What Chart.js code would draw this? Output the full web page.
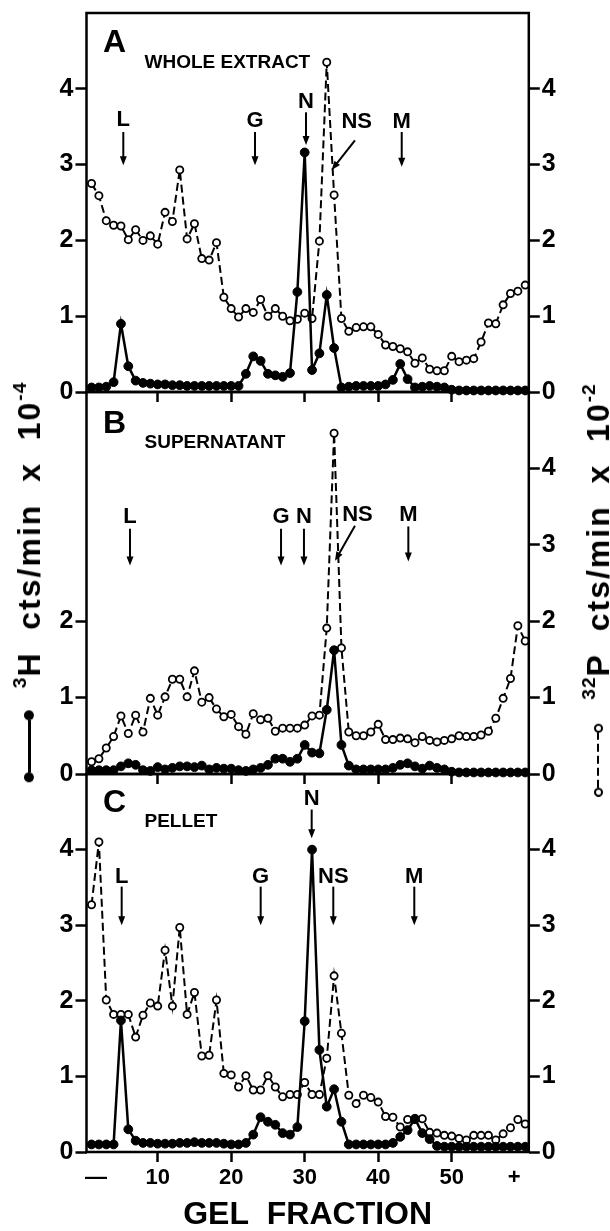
<!DOCTYPE html>
<html>
<head>
<meta charset="utf-8">
<script src="https://cdn.jsdelivr.net/npm/chart.js@4.4.0/dist/chart.umd.min.js"></script>
<style>
  body { margin: 0; background: #fff; }
  #page { position: relative; width: 610px; height: 1231px; overflow: hidden; background: #fff; }
  canvas { position: absolute; left: 0; }
  .ytitle {
    position: absolute; transform-origin: 0 0; transform: rotate(-90deg) translate(-50%, -50%);
    display: flex; align-items: center; white-space: nowrap; color: #000;
    font-family: "Liberation Sans", Arial, sans-serif; font-weight: bold; font-size: 32px;
    line-height: 1; letter-spacing: 2px;
  }
  .ytitle sup { font-size: 0.6em; line-height: 0; vertical-align: 0.75em; letter-spacing: 1px; }
  .sym { display: flex; align-items: center; }
  .dot { width: 10px; height: 10px; border-radius: 50%; background: #000; }
  .bar { width: 52px; height: 3px; background: #000; }
  .odot { width: 5px; height: 5px; border-radius: 50%; border: 2.5px solid #000; background: #fff; }
  .dbar { width: 55px; height: 2.5px; background: repeating-linear-gradient(90deg, #000 0 8px, transparent 8px 12px); }
</style>
</head>
<body>
<div id="page">
  <canvas id="chartA" width="610" height="406" style="top:0px"></canvas>
  <canvas id="chartB" width="610" height="410" style="top:378px"></canvas>
  <canvas id="chartC" width="610" height="471" style="top:760px"></canvas>

  <div class="ytitle" style="left:29px; top:582px">
    <span class="sym" style="margin-right:22px"><i class="dot"></i><i class="bar"></i><i class="dot"></i></span>
    <span><sup>3</sup>H&nbsp; cts/min&nbsp; x&nbsp; 10<sup>-4</sup></span>
  </div>
  <div class="ytitle" style="left:598px; top:590px">
    <span class="sym" style="margin-right:24px"><i class="odot"></i><i class="dbar"></i><i class="odot"></i></span>
    <span><sup>32</sup>P&nbsp; cts/min&nbsp; x&nbsp; 10<sup>-2</sup></span>
  </div>
</div>

<script>
// gel fractions (x)
const fractions = [1,2,3,4,5,6,7,8,9,10,11,12,13,14,15,16,17,18,19,20,
  21,22,23,24,25,26,27,28,29,30,31,32,33,34,35,36,37,38,39,40,
  41,42,43,44,45,46,47,48,49,50,51,52,53,54,55,56,57,58,59,60];

// A: whole extract
const h3A = [0.06,0.06,0.07,0.13,0.90,0.34,0.15,0.12,0.11,0.10,0.10,0.09,0.09,0.08,0.08,0.08,0.08,0.08,0.08,0.08,
  0.08,0.24,0.47,0.41,0.24,0.22,0.20,0.25,1.32,3.16,0.29,0.51,1.28,0.58,0.06,0.07,0.08,0.08,0.08,0.08,
  0.10,0.16,0.37,0.17,0.06,0.07,0.08,0.07,0.06,0.03,0.02,0.02,0.02,0.02,0.02,0.02,0.02,0.02,0.02,0.02];
const p32A = [2.75,2.59,2.26,2.20,2.19,2.01,2.14,2.00,2.06,1.95,2.37,2.25,2.93,2.02,2.22,1.76,1.74,1.97,1.25,1.10,
  0.99,1.10,1.05,1.22,1.00,1.10,1.00,0.94,0.96,1.04,0.97,1.99,4.35,2.60,0.97,0.80,0.85,0.86,0.86,0.76,
  0.62,0.60,0.57,0.53,0.38,0.45,0.30,0.28,0.28,0.47,0.40,0.42,0.44,0.66,0.91,0.90,1.15,1.30,1.33,1.41];

// B: supernatant
const h3B = [0.05,0.05,0.05,0.05,0.10,0.14,0.12,0.05,0.04,0.09,0.06,0.08,0.10,0.10,0.09,0.11,0.06,0.08,0.07,0.07,
  0.05,0.04,0.06,0.08,0.12,0.20,0.20,0.16,0.20,0.38,0.28,0.27,0.84,1.62,0.38,0.11,0.06,0.06,0.06,0.06,
  0.06,0.08,0.12,0.14,0.10,0.07,0.11,0.08,0.06,0.03,0.02,0.02,0.02,0.02,0.02,0.02,0.02,0.02,0.02,0.02];
const p32B = [0.16,0.20,0.34,0.49,0.76,0.53,0.77,0.55,0.99,0.77,1.01,1.24,1.24,1.01,1.35,0.94,1.00,0.85,0.75,0.78,
  0.62,0.52,0.79,0.71,0.73,0.56,0.60,0.60,0.60,0.64,0.76,0.77,1.91,4.46,1.65,0.55,0.50,0.50,0.55,0.65,
  0.45,0.45,0.47,0.46,0.41,0.49,0.44,0.42,0.44,0.46,0.50,0.49,0.49,0.51,0.56,0.73,0.99,1.25,1.94,1.74];

// C: pellet
const h3C = [0.10,0.10,0.10,0.10,1.74,0.30,0.15,0.12,0.12,0.11,0.11,0.11,0.12,0.12,0.13,0.12,0.12,0.12,0.11,0.10,
  0.10,0.12,0.23,0.46,0.40,0.36,0.25,0.23,0.33,1.73,4.00,1.35,0.60,0.83,0.40,0.10,0.10,0.10,0.10,0.10,
  0.10,0.12,0.20,0.29,0.44,0.25,0.17,0.08,0.07,0.07,0.07,0.07,0.07,0.07,0.07,0.07,0.07,0.07,0.07,0.07];
const p32C = [3.27,4.10,2.01,1.82,1.82,1.82,1.52,1.81,1.97,1.93,2.67,1.93,2.97,1.82,2.11,1.27,1.28,2.01,1.04,1.02,
  0.86,1.01,0.82,0.82,1.01,0.86,0.73,0.76,0.76,0.92,0.76,0.76,1.24,2.33,1.57,0.75,0.64,0.75,0.72,0.66,
  0.47,0.46,0.33,0.43,0.43,0.44,0.26,0.25,0.22,0.21,0.18,0.16,0.22,0.22,0.22,0.16,0.24,0.32,0.43,0.37];

// axes
const xTickValues = [1.6, 10, 20, 30, 40, 50, 58.5];
const xTickLabels = ['\u2014', '10', '20', '30', '40', '50', '+'];
const xTickValuesInner = [10, 20, 30, 40, 50];
const yTicksFull = [0, 1, 2, 3, 4];
const yTicksShort = [0, 1, 2];

// marker arrows (gel fraction, cts units)
const markersA = [
  { text: 'L', x: 5.32, labelY: 3.51, top: 3.43, tip: 2.99 },
  { text: 'G', x: 23.24, labelY: 3.50, top: 3.43, tip: 2.99 },
  { text: 'N', x: 30.18, labelY: 3.75, top: 3.69, tip: 3.26 },
  { text: 'NS', x: 37.07, labelY: 3.48, from: [36.84, 3.32], to: [33.67, 2.93] },
  { text: 'M', x: 43.2, labelY: 3.48, top: 3.43, tip: 2.97 }
];
const markersB = [
  { text: 'L', x: 6.23, labelY: 3.28, top: 3.21, tip: 2.73 },
  { text: 'G', x: 26.78, labelY: 3.28, top: 3.21, tip: 2.73 },
  { text: 'N', x: 29.9, labelY: 3.28, top: 3.21, tip: 2.73 },
  { text: 'NS', x: 37.18, labelY: 3.31, from: [36.84, 3.25], to: [34.12, 2.79] },
  { text: 'M', x: 44.1, labelY: 3.31, top: 3.24, tip: 2.78 }
];
const markersC = [
  { text: 'L', x: 5.1, labelY: 3.56, top: 3.51, tip: 3.0 },
  { text: 'G', x: 24.01, labelY: 3.56, top: 3.51, tip: 3.0 },
  { text: 'N', x: 30.95, labelY: 4.59, top: 4.53, tip: 4.15 },
  { text: 'NS', x: 33.89, labelY: 3.56, top: 3.51, tip: 3.0 },
  { text: 'M', x: 44.91, labelY: 3.56, top: 3.51, tip: 3.0 }
];

const FONT = '"Liberation Sans", Arial, sans-serif';

function pts(vals) {
  return fractions.map((f, i) => ({ x: f, y: vals[i] }));
}

function drawArrow(ctx, x1, y1, x2, y2) {
  const ang = Math.atan2(y2 - y1, x2 - x1);
  const len = 9, half = 3.5;
  ctx.lineWidth = 2;
  ctx.beginPath();
  ctx.moveTo(x1, y1);
  ctx.lineTo(x2 - Math.cos(ang) * (len - 1), y2 - Math.sin(ang) * (len - 1));
  ctx.stroke();
  ctx.beginPath();
  ctx.moveTo(x2, y2);
  ctx.lineTo(x2 - Math.cos(ang) * len - Math.sin(ang) * half, y2 - Math.sin(ang) * len + Math.cos(ang) * half);
  ctx.lineTo(x2 - Math.cos(ang) * len + Math.sin(ang) * half, y2 - Math.sin(ang) * len - Math.cos(ang) * half);
  ctx.closePath();
  ctx.fill();
}

function makePanel(id, cfg) {
  const decor = {
    id: 'decor',
    afterDraw(chart) {
      const { ctx, chartArea: a, scales } = chart;
      const xs = scales.x, ys = scales.y;
      ctx.save();
      ctx.strokeStyle = '#000';
      ctx.fillStyle = '#000';
      ctx.lineWidth = 2.5;
      ctx.strokeRect(a.left, a.top, a.right - a.left, a.bottom - a.top);

      ctx.textAlign = 'left';
      ctx.textBaseline = 'alphabetic';
      ctx.font = 'bold 32px ' + FONT;
      ctx.fillText(cfg.letter, a.left + 16.5, a.top + cfg.letterDy);
      ctx.font = 'bold 19px ' + FONT;
      ctx.fillText(cfg.title, a.left + 58, a.top + cfg.titleDy);

      ctx.font = 'bold 22px ' + FONT;
      ctx.textAlign = 'center';
      cfg.markers.forEach(m => {
        const px = xs.getPixelForValue(m.x);
        ctx.fillText(m.text, px, ys.getPixelForValue(m.labelY));
        if (m.from) {
          drawArrow(ctx, xs.getPixelForValue(m.from[0]), ys.getPixelForValue(m.from[1]),
            xs.getPixelForValue(m.to[0]), ys.getPixelForValue(m.to[1]));
        } else {
          drawArrow(ctx, px, ys.getPixelForValue(m.top), px, ys.getPixelForValue(m.tip));
        }
      });
      ctx.restore();
    }
  };

  const tickFontY = { family: FONT, size: 25, weight: 'bold' };

  return new Chart(document.getElementById(id), {
    type: 'line',
    data: {
      datasets: [
        {
          label: '3H', data: pts(cfg.h3), yAxisID: 'y', order: 0, clip: false,
          borderColor: '#000', borderWidth: 2.5, tension: 0,
          pointRadius: 4.4, pointBackgroundColor: '#000', pointBorderColor: '#000', pointBorderWidth: 1
        },
        {
          label: '32P', data: pts(cfg.p32), yAxisID: 'y2', order: 1, clip: false,
          borderColor: '#000', borderWidth: 2, borderDash: [8, 4], tension: 0,
          pointRadius: 3.6, pointBackgroundColor: '#fff', pointBorderColor: '#000', pointBorderWidth: 1.8
        }
      ]
    },
    options: {
      responsive: false,
      animation: false,
      devicePixelRatio: 1,
      events: [],
      layout: { padding: { top: cfg.padTop, left: 0, right: 0, bottom: 0 } },
      plugins: { legend: { display: false }, tooltip: { enabled: false } },
      scales: {
        x: {
          type: 'linear', min: 0.313, max: 60.49,
          afterBuildTicks: s => { s.ticks = cfg.xTicks.map(v => ({ value: v })); },
          afterFit: s => { s.height = cfg.xHeight; s.paddingLeft = 0; s.paddingRight = 0; },
          ticks: {
            display: cfg.showX, autoSkip: false, maxRotation: 0, padding: 3, color: '#000',
            font: { family: FONT, size: 22, weight: 'bold' },
            callback: (v, i) => xTickLabels[i]
          },
          grid: {
            drawOnChartArea: false, drawTicks: true, tickLength: 10, tickWidth: 2.5, color: '#000',
            tickColor: c => (c.tick && (c.tick.value < 5 || c.tick.value > 55)) ? 'rgba(0,0,0,0)' : '#000'
          },
          border: { display: false },
          title: {
            display: cfg.showX, text: 'GEL  FRACTION', color: '#000',
            font: { family: FONT, size: 32, weight: 'bold', lineHeight: 1 },
            padding: { top: 0, bottom: 0 }
          }
        },
        y: {
          type: 'linear', position: 'left', min: 0, max: 5,
          afterBuildTicks: s => { s.ticks = cfg.leftTicks.map(v => ({ value: v })); },
          afterFit: s => { s.width = 86.5; s.paddingTop = 0; s.paddingBottom = 0; },
          ticks: { color: '#000', padding: 2, font: tickFontY },
          grid: { drawOnChartArea: false, tickLength: 11, tickWidth: 2.5, color: '#000' },
          border: { display: false }
        },
        y2: {
          type: 'linear', position: 'right', min: 0, max: 5,
          afterBuildTicks: s => { s.ticks = cfg.rightTicks.map(v => ({ value: v })); },
          afterFit: s => { s.width = 81.2; s.paddingTop = 0; s.paddingBottom = 0; },
          ticks: { color: '#000', padding: 2, font: tickFontY },
          grid: { drawOnChartArea: false, tickLength: 11, tickWidth: 2.5, color: '#000' },
          border: { display: false }
        }
      }
    },
    plugins: [decor]
  });
}

makePanel('chartA', {
  h3: h3A, p32: p32A, leftTicks: yTicksFull, rightTicks: yTicksFull,
  xTicks: xTickValuesInner, showX: false, xHeight: 14, padTop: 13,
  letter: 'A', letterDy: 38.7, title: 'WHOLE EXTRACT', titleDy: 54.7, markers: markersA
});
makePanel('chartB', {
  h3: h3B, p32: p32B, leftTicks: yTicksShort, rightTicks: yTicksFull,
  xTicks: xTickValuesInner, showX: false, xHeight: 14, padTop: 14,
  letter: 'B', letterDy: 41, title: 'SUPERNATANT', titleDy: 56, markers: markersB
});
makePanel('chartC', {
  h3: h3C, p32: p32C, leftTicks: yTicksFull, rightTicks: yTicksFull,
  xTicks: xTickValues, showX: true, xHeight: 79, padTop: 14,
  letter: 'C', letterDy: 38, title: 'PELLET', titleDy: 53, markers: markersC
});
</script>
</body>
</html>
